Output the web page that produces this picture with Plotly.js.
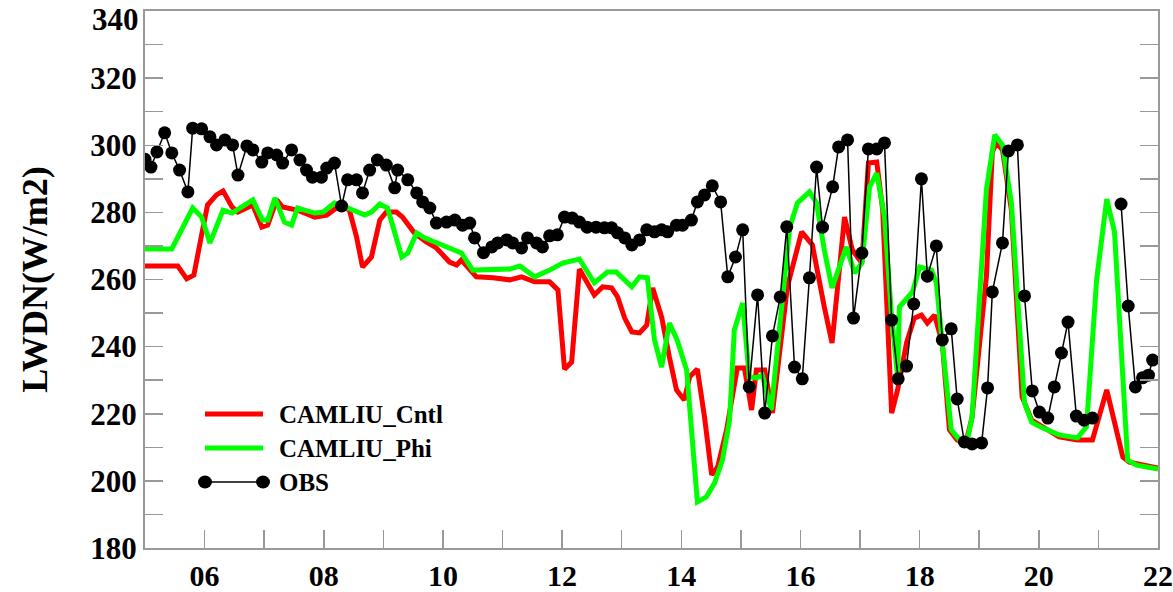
<!DOCTYPE html>
<html>
<head>
<meta charset="utf-8">
<script src="https://cdn.plot.ly/plotly-3.0.1.min.js"></script>
<style>html,body{margin:0;padding:0;background:#fff;}#chart{width:1173px;height:592px;}</style>
</head>
<body>
<div id="chart"></div>
<script>
// ---- data (x in days of month, y in W/m2) ----
const obsDay = [5.0,5.1,5.2,5.33,5.45,5.58,5.72,5.80,5.95,6.09,6.20,6.34,6.47,6.56,6.71,6.81,6.96,7.06,7.21,7.31,7.46,7.60,7.71,7.81,7.96,8.05,8.18,8.30,8.40,8.55,8.65,8.77,8.90,9.05,9.19,9.24,9.41,9.56,9.66,9.78,9.89,10.06,10.20,10.33,10.45,10.53,10.68,10.82,10.92,11.07,11.17,11.32,11.42,11.57,11.67,11.79,11.92,12.04,12.17,12.29,12.42,12.57,12.71,12.83,12.93,13.05,13.17,13.30,13.42,13.55,13.67,13.77,13.92,14.02,14.17,14.27,14.39,14.52,14.66,14.78,14.91,15.03,15.14,15.28,15.40,15.53,15.66,15.77,15.90,16.03,16.15,16.27,16.37,16.54,16.64,16.79,16.89,17.03,17.14,17.28,17.41,17.53,17.64,17.78,17.90,18.03,18.13,18.28,18.38,18.53,18.63,18.75,18.88,19.04,19.14,19.22,19.39,19.49,19.64,19.76,19.89,20.01,20.15,20.26,20.38,20.49,20.63,20.76,20.90,21.15,21.38,21.50,21.62,21.74,21.84,21.91];
const obsVal = [295.8,293.5,298.0,303.7,297.7,292.6,286.1,305.1,304.9,302.5,300.1,301.6,300.1,291.1,299.8,298.6,295.0,297.7,297.1,294.7,298.6,295.6,292.6,290.5,290.5,293.2,294.7,281.9,289.7,289.7,285.8,292.6,295.6,294.1,287.3,292.6,289.7,285.8,283.1,281.3,276.8,277.1,277.7,276.2,276.8,272.4,268.0,269.7,270.9,271.8,270.9,269.4,272.4,270.9,269.7,273.0,273.3,278.6,278.3,277.1,275.6,275.6,275.4,275.4,273.9,272.4,270.3,271.8,274.8,274.2,274.8,274.2,276.2,276.2,277.7,283.1,285.2,287.9,283.1,260.8,266.7,274.8,228.0,255.4,220.2,243.2,254.8,275.7,233.9,230.4,260.5,293.5,275.6,287.6,299.5,301.6,248.5,267.9,298.9,298.9,300.7,247.9,230.4,234.2,252.7,290.0,261.0,270.0,242.0,245.3,224.4,211.6,211.0,211.3,227.7,256.3,270.9,298.3,300.1,255.1,226.8,220.5,218.7,228.0,238.1,247.3,219.3,218.1,218.7,null,282.5,252.1,228.0,230.7,231.5,236.0];

const cntlDay = [5.0,5.55,5.70,5.82,5.95,6.05,6.20,6.31,6.46,6.56,6.81,6.96,7.06,7.21,7.31,7.55,7.85,8.05,8.21,8.32,8.43,8.55,8.65,8.80,8.94,9.05,9.22,9.32,9.52,9.72,9.89,10.11,10.23,10.31,10.56,10.70,10.84,11.12,11.32,11.54,11.79,11.93,12.04,12.16,12.29,12.54,12.68,12.83,12.93,13.05,13.17,13.30,13.42,13.52,13.67,13.80,13.92,14.05,14.14,14.27,14.39,14.51,14.61,14.76,14.94,15.06,15.18,15.26,15.40,15.53,15.78,16.02,16.20,16.40,16.53,16.74,16.87,17.03,17.14,17.28,17.38,17.53,17.63,17.78,17.91,18.03,18.13,18.25,18.38,18.50,18.63,18.78,18.88,19.12,19.22,19.29,19.39,19.54,19.64,19.72,19.88,20.34,20.65,20.90,21.14,21.41,21.52,22.0];
const cntlVal = [264.0,264.0,260.2,261.3,273.3,282.2,285.2,286.4,281.6,280.1,282.2,275.6,276.2,283.7,281.6,280.7,278.6,279.2,281.3,281.6,280.7,272.7,263.7,266.7,277.7,280.1,280.1,278.6,273.9,271.2,269.4,265.2,264.3,265.8,260.8,260.8,260.5,259.9,260.8,259.3,259.3,256.9,233.3,235.4,263.1,255.4,257.8,257.5,254.8,248.5,244.4,244.1,246.4,257.5,248.8,236.9,227.1,224.1,231.0,233.3,219.0,201.8,204.1,215.2,233.6,233.6,221.1,233.0,233.0,220.2,257.8,274.2,270.3,251.8,241.1,278.6,268.8,264.9,294.7,295.0,280.7,220.2,227.1,241.1,248.5,249.4,247.0,249.4,241.1,215.2,212.2,211.6,219.0,260.8,298.0,300.7,298.6,280.7,252.4,225.0,218.1,213.1,212.2,212.2,227.1,207.1,205.6,203.8];

const phiDay = [5.0,5.45,5.80,5.95,6.09,6.31,6.46,6.81,6.97,7.06,7.18,7.34,7.46,7.56,7.85,7.99,8.18,8.30,8.40,8.69,8.80,8.94,9.07,9.31,9.41,9.56,9.69,9.91,10.11,10.31,10.50,10.70,10.84,11.12,11.29,11.54,11.79,12.01,12.29,12.54,12.76,12.91,13.17,13.30,13.43,13.55,13.67,13.80,13.93,14.09,14.27,14.42,14.56,14.69,14.81,14.89,15.03,15.14,15.26,15.36,15.51,15.61,15.73,15.82,15.95,16.15,16.27,16.40,16.53,16.77,16.91,17.03,17.16,17.28,17.41,17.53,17.63,17.66,17.88,18.00,18.20,18.28,18.38,18.53,18.67,18.81,18.88,19.12,19.26,19.39,19.54,19.64,19.76,19.88,20.06,20.34,20.65,20.80,20.97,21.14,21.27,21.49,21.64,22.0];
const phiVal = [269.1,269.1,281.3,278.6,270.9,280.7,279.8,283.7,277.7,277.7,284.3,277.1,276.2,281.3,279.8,280.1,282.8,281.6,281.3,279.2,280.1,282.5,281.3,266.7,267.9,273.9,272.4,270.9,269.4,267.9,262.8,262.8,263.1,263.1,264.0,260.8,262.8,264.9,266.1,259.0,262.2,262.2,257.8,260.8,260.5,242.0,233.9,247.0,242.0,233.0,193.7,195.2,199.4,206.2,218.1,245.0,253.0,231.0,230.7,231.5,221.1,239.0,260.8,275.6,282.8,286.1,282.8,268.8,257.5,269.7,261.9,264.9,287.6,291.7,278.6,248.8,231.0,251.8,256.3,263.7,262.8,259.0,241.1,215.2,212.2,212.8,219.0,286.7,303.1,300.1,282.8,253.0,223.2,217.5,215.8,213.7,212.8,216.1,259.9,284.0,274.2,206.2,204.7,203.5];

const tickDays = [6,8,10,12,14,16,18,20,22];
const tickText = ["06","08","10","12","14","16","18","20","22"];
const yTickVals = [180,200,220,240,260,280,300,320,340];
const yTickText = ["180","200","220","240","260","280","300","320","340"];
const seriesNames = ["CAMLIU_Cntl","CAMLIU_Phi","OBS"];

const FONT = "Liberation Serif, Times New Roman, serif";
const AXC = "#999999";

const traces = [
  {x: cntlDay, y: cntlVal, name: seriesNames[0], type: "scatter", mode: "lines",
   line: {color: "#ff0000", width: 5}},
  {x: phiDay, y: phiVal, name: seriesNames[1], type: "scatter", mode: "lines",
   line: {color: "#00ff00", width: 5}},
  {x: obsDay, y: obsVal, name: seriesNames[2], type: "scatter", mode: "lines+markers",
   connectgaps: false,
   line: {color: "#000000", width: 1.5},
   marker: {color: "#000000", size: 13, symbol: "circle"}}
];

// manual legend (paper coordinates)
const PX0 = 145, PW = 1013, PY0 = 548, PH = 537;
const px = v => (v - PX0) / PW;
const py = v => (PY0 - v) / PH;
const legRows = [
  {y: 414, color: "#ff0000", w: 5, label: seriesNames[0], dots: false},
  {y: 448, color: "#00ff00", w: 5, label: seriesNames[1], dots: false},
  {y: 482, color: "#000000", w: 1.5, label: seriesNames[2], dots: true}
];
const shapes = [];
const annotations = [];
legRows.forEach(r => {
  shapes.push({type: "line", xref: "paper", yref: "paper", x0: px(205), x1: px(263), y0: py(r.y), y1: py(r.y),
               line: {color: r.color, width: r.w}});
  if (r.dots) {
    [205, 263].forEach(cx => shapes.push({type: "circle", xref: "paper", yref: "paper",
      xsizemode: "pixel", ysizemode: "pixel", xanchor: px(cx), yanchor: py(r.y),
      x0: -7, x1: 7, y0: -6.5, y1: 6.5, fillcolor: "#000", line: {color: "#000", width: 0}}));
  }
  annotations.push({xref: "paper", yref: "paper", x: px(277), y: py(r.y), xanchor: "left", yanchor: "middle",
    text: r.label, showarrow: false, font: {family: FONT, size: 25, color: "#000", weight: "bold"}});
});

// top tick label drawn slightly lowered so it is not cut at the page edge (as in the reference)
const topIdx = yTickVals.length - 1;
annotations.push({xref: "paper", yref: "y", x: 0, y: yTickVals[topIdx], xanchor: "right", yanchor: "middle",
  xshift: -4, yshift: -8, text: yTickText[topIdx], showarrow: false,
  font: {family: FONT, size: 31, color: "#000", weight: "bold"}});
const yTickTextShown = yTickText.map((t, i) => i === topIdx ? "" : t);

const layout = {
  width: 1173, height: 592,
  margin: {l: 145, r: 15, t: 11, b: 44},
  paper_bgcolor: "#fff", plot_bgcolor: "#fff",
  showlegend: false,
  font: {family: FONT, color: "#000"},
  xaxis: {
    range: [5, 22], tickvals: tickDays, ticktext: tickText,
    ticks: "inside", ticklen: 18, tickcolor: AXC, tickwidth: 1.5,
    minor: {dtick: 1, tick0: 5, ticks: "inside", ticklen: 18, tickcolor: AXC, tickwidth: 1.5, showgrid: false},
    showline: true, linecolor: AXC, linewidth: 2, mirror: true,
    showgrid: false, zeroline: false, ticklabeloverflow: "allow",
    tickfont: {family: FONT, size: 30, color: "#000", weight: "bold"}
  },
  yaxis: {
    range: [180, 340], tickvals: yTickVals, ticktext: yTickTextShown,
    ticks: "inside", ticklen: 18, tickcolor: AXC, tickwidth: 1.5,
    minor: {dtick: 10, tick0: 180, ticks: "inside", ticklen: 18, tickcolor: AXC, tickwidth: 1.5, showgrid: false},
    showline: true, linecolor: AXC, linewidth: 2, mirror: "allticks",
    showgrid: false, zeroline: false, ticklabeloverflow: "allow",
    tickfont: {family: FONT, size: 31, color: "#000", weight: "bold"},
    title: {text: "LWDN(W/m2)", font: {family: FONT, size: 36, color: "#000", weight: "bold"}, standoff: 32}
  },
  shapes: shapes,
  annotations: annotations
};

Plotly.newPlot("chart", traces, layout, {displayModeBar: false, staticPlot: true});
</script>
</body>
</html>
